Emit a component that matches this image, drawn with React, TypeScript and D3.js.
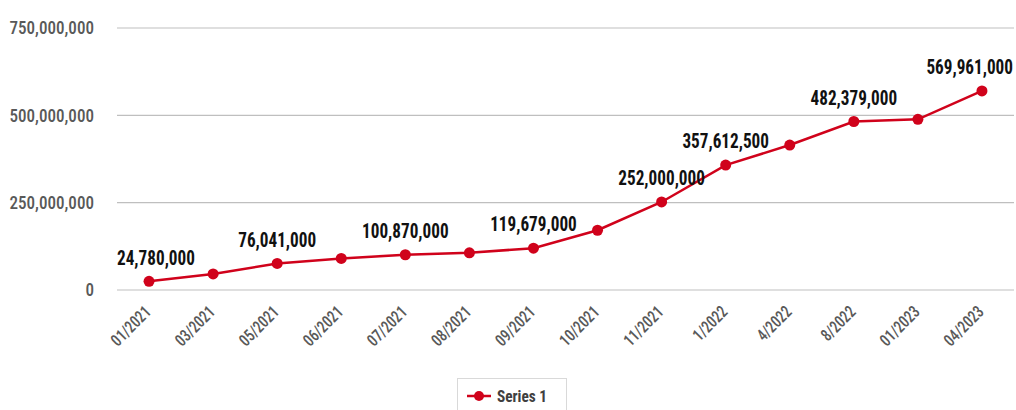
import React from "react";
import * as d3 from "d3";

const categories = ["01/2021","03/2021","05/2021","06/2021","07/2021","08/2021","09/2021","10/2021","11/2021","1/2022","4/2022","8/2022","01/2023","04/2023"];
const values = [24780000,46000000,76041000,90500000,100870000,106500000,119679000,171000000,252000000,357612500,415000000,482379000,488500000,569961000];
const labeled = [true,false,true,false,true,false,true,false,true,true,false,true,false,true];
const yTicks = [0,250000000,500000000,750000000];
const seriesName = "Series 1";

const FONT = "'Roboto Condensed','Liberation Sans Narrow','DejaVu Sans Condensed','Arial Narrow',Roboto,sans-serif";
const RED = "#D0021B";

export default function App() {
  const W = 1016, H = 410;
  const left = 117, right = 1014;
  const x = d3.scaleBand<string>().domain(categories).range([left, right]);
  const y = d3.scaleLinear().domain([0, 750000000]).range([290, 28]);
  const fmt = d3.format(",");
  const cx = (c: string) => (x(c) as number) + x.bandwidth() / 2;
  const line = d3.line<number>().x((_, i) => cx(categories[i])).y(v => y(v));
  const last = values.length - 1;
  return (
    <svg width={W} height={H} style={{ position: "absolute", left: 0, top: 0, background: "#fff" }} fontFamily={FONT}>
      {yTicks.map(t => (
        <g key={t}>
          <line x1={left} x2={right} y1={y(t)} y2={y(t)} stroke="#bfbfbf" strokeWidth={1.2} />
          <g transform={`translate(94,${y(t)}) scale(0.95,1)`}>
            <text dy="0.36em" textAnchor="end" fontSize={18} fontWeight={500} fill="#595959">{fmt(t)}</text>
          </g>
        </g>
      ))}
      {categories.map(c => (
        <g key={c} transform={`translate(${cx(c) + 3},${313}) rotate(-45) scale(0.85,1)`}>
          <text textAnchor="end" fontSize={17} fontWeight={500} fill="#595959">{c}</text>
        </g>
      ))}
      <path d={line(values) || ""} fill="none" stroke={RED} strokeWidth={2.5} />
      {values.map((v, i) => (
        <circle key={i} cx={cx(categories[i])} cy={y(v)} r={5.5} fill={RED} />
      ))}
      {values.map((v, i) => {
        if (!labeled[i]) return null;
        const anchor = i === 0 ? "start" : i === last ? "end" : "middle";
        const tx = i === 0 ? left : i === last ? right - 1 : cx(categories[i]);
        return (
          <g key={"l" + i} transform={`translate(${tx},${y(v) - 24}) scale(0.86,1)`}>
            <text dy="0.36em" textAnchor={anchor} fontSize={20} fontWeight={700} fill="#111">{fmt(v)}</text>
          </g>
        );
      })}
      <g>
        <rect x={457.5} y={378.5} width={109} height={40} fill="#fff" stroke="#d9d9d9" strokeWidth={1} />
        <line x1={467} x2={491} y1={396} y2={396} stroke={RED} strokeWidth={2.5} />
        <circle cx={479} cy={396} r={5} fill={RED} />
        <g transform="translate(497,396) scale(0.9,1)">
          <text dy="0.36em" fontSize={17} fontWeight={700} fill="#404040">{seriesName}</text>
        </g>
      </g>
    </svg>
  );
}
